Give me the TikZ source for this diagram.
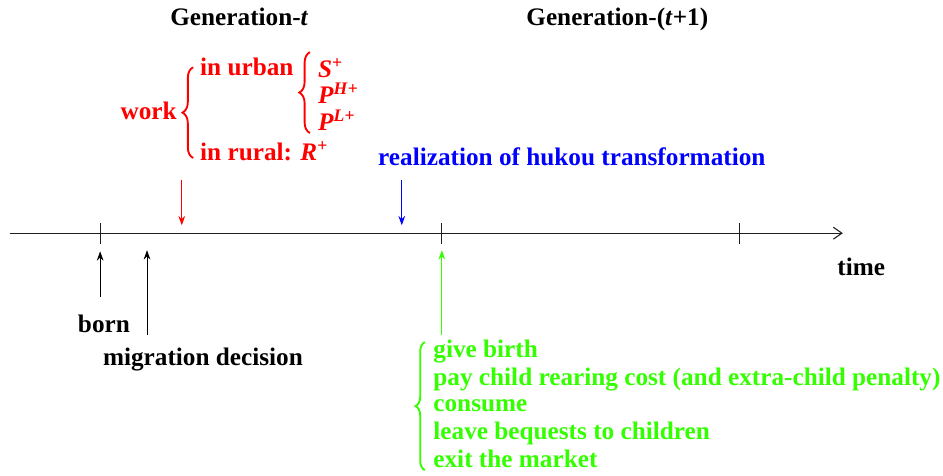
\documentclass[tikz,border=0pt]{standalone}
\usepackage{fontspec}
\setmainfont{Liberation Serif}
\usepackage{tikz}
\usetikzlibrary{arrows.meta,decorations.pathreplacing}
\definecolor{rojoTxt}{RGB}{255,0,0}
\definecolor{azulTxt}{RGB}{0,0,255}
\definecolor{verdeTxt}{RGB}{51,255,0}
\definecolor{grisLinea}{RGB}{30,30,30}

\begin{document}
\begin{tikzpicture}[
    lbl/.style={font=\fontsize{19}{21}\selectfont\bfseries, inner sep=0pt, anchor=base west},
    flecha/.style={-{Stealth[length=7pt,width=5pt]}, line width=0.6pt},
    llave/.style={decorate, decoration={brace, amplitude=#1}, line width=1.4pt}
  ]
  \useasboundingbox (0,0) rectangle (24.95,12.57);
  % Time axis
  \coordinate (tstart) at (0.26,6.40);
  \coordinate (tend) at (22.30,6.40);
  \draw[-{Straight Barb[length=6.5pt,width=9pt]}, line width=0.8pt, grisLinea] (tstart) -- (tend);
  \foreach \x in {2.65, 11.69, 19.55}
    \draw[line width=0.6pt, grisLinea] (\x,6.12) -- (\x,6.68);
  \node[lbl] (time) at (22.15,5.29) {time};
  % Headings
  \node[lbl] (gent) at (4.50,11.90) {Generation-\textit{t}};
  \node[lbl] (gennext) at (13.92,11.90) {Generation-(\textit{t}+1)};
  % Work choices (rojo)
  \node[lbl, rojoTxt, anchor=base east] (work) at (4.68,9.42) {work};
  \coordinate (llaveA1) at (5.11,8.39);
  \coordinate (llaveA2) at (5.11,10.79);
  \draw[llave=8pt, rojoTxt] (llaveA1) -- (llaveA2);
  \node[lbl, rojoTxt] (urban) at (5.29,10.56) {in urban};
  \node[lbl, rojoTxt] (rural) at (5.29,8.33) {in rural: \textit{R}\textsuperscript{+}};
  \coordinate (llaveB1) at (8.20,9.05);
  \coordinate (llaveB2) at (8.20,11.19);
  \draw[llave=8pt, rojoTxt] (llaveB1) -- (llaveB2);
  \node[lbl, rojoTxt] (splus) at (8.41,10.53) {\textit{S}\textsuperscript{+}};
  \node[lbl, rojoTxt] (phplus) at (8.41,9.84) {\textit{P}\textsuperscript{\textit{H}+}};
  \node[lbl, rojoTxt] (plplus) at (8.41,9.13) {\textit{P}\textsuperscript{\textit{L}+}};
  \coordinate (rojoTop) at (4.81,7.80);
  \coordinate (rojoTip) at (4.81,6.61);
  \draw[flecha, rojoTxt] (rojoTop) -- (rojoTip);
  % Hukou (azul)
  \node[lbl, azulTxt] (hukou) at (10.00,8.20) {realization of hukou transformation};
  \coordinate (azulTop) at (10.63,7.80);
  \coordinate (azulTip) at (10.63,6.61);
  \draw[flecha, azulTxt] (azulTop) -- (azulTip);
  % Below the axis
  \node[lbl, anchor=base] (born) at (2.75,3.78) {born};
  \coordinate (bornFoot) at (2.65,4.71);
  \coordinate (bornTip) at (2.65,5.92);
  \draw[flecha] (bornFoot) -- (bornTip);
  \node[lbl] (migr) at (2.72,2.91) {migration decision};
  \coordinate (migrFoot) at (3.89,3.70);
  \coordinate (migrTip) at (3.89,5.95);
  \draw[flecha] (migrFoot) -- (migrTip);
  % Old age (verde)
  \coordinate (verdeFoot) at (11.69,3.70);
  \coordinate (verdeTip) at (11.69,5.95);
  \draw[flecha, verdeTxt, line width=0.8pt] (verdeFoot) -- (verdeTip);
  \coordinate (llaveC1) at (11.24,0.13);
  \coordinate (llaveC2) at (11.24,3.52);
  \draw[llave=7pt, verdeTxt] (llaveC1) -- (llaveC2);
  \foreach \y/\name/\txt in {3.12/birth/give birth,
      2.38/rear/pay child rearing cost (and extra-child penalty),
      1.67/cons/consume,
      0.93/beq/leave bequests to children,
      0.21/exit/exit the market}
    \node[lbl, verdeTxt] (\name) at (11.46,\y) {\txt};
\end{tikzpicture}
\end{document}
